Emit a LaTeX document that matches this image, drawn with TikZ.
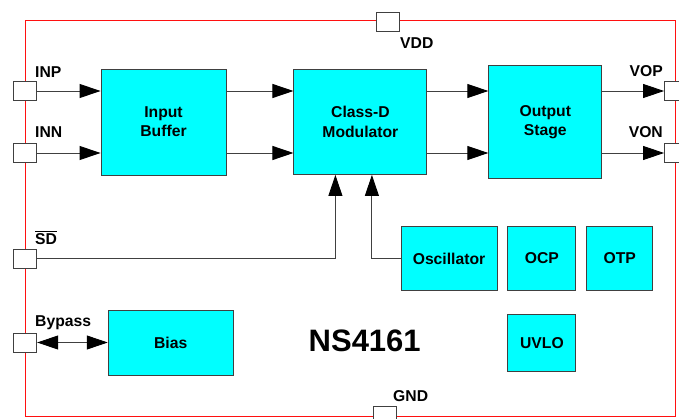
\documentclass[tikz,border=0pt]{standalone}
\usepackage{fontspec}
\setmainfont{Liberation Sans}
\usetikzlibrary{positioning,arrows.meta}
\definecolor{cyanfill}{HTML}{00FFFF}
\definecolor{edge}{HTML}{404040}
\definecolor{chipred}{HTML}{FF1010}

\begin{document}
\begin{tikzpicture}[x=1pt, y=1pt,
  blk/.style={draw=edge, fill=cyanfill, line width=0.9pt, align=center, inner sep=0pt, font=\fontsize{15.7}{19.3}\selectfont\bfseries},
  pad/.style={draw=edge, fill=white, line width=0.8pt, minimum width=23pt, minimum height=19pt, inner sep=0pt},
  lbl/.style={inner sep=0pt, font=\fontsize{15.7}{19.3}\selectfont\bfseries},
  arr/.style={-{Triangle[length=21pt,width=14pt,black]}, draw=edge, line width=0.9pt},
  barr/.style={{Triangle[length=21pt,width=14pt,black]}-{Triangle[length=21pt,width=14pt,black]}, draw=edge, line width=0.9pt},
  node distance=10pt]
\useasboundingbox (0,0) rectangle (679,418);
\draw[chipred, line width=1pt] (25.3,2) rectangle (675.5,397);
\node[blk, minimum width=125pt, minimum height=106pt] (buf) at (163.5,296) {Input\\Buffer};
\node[blk, minimum width=133pt, minimum height=105pt, right=67pt of buf] (mod) {Class-D\\Modulator};
\node[blk, minimum width=113pt, minimum height=113pt, right=61pt of mod] (out) {Output\\Stage};
\node[blk, minimum width=96pt, minimum height=64pt] (osc) at (449,159.5) {Oscillator};
\node[blk, minimum width=68pt, minimum height=64pt, right=of osc] (ocp) {OCP};
\node[blk, minimum width=66pt, minimum height=64pt, right=of ocp] (otp) {OTP};
\node[blk, minimum width=68pt, minimum height=57pt, below=23pt of ocp] (uvlo) {UVLO};
\node[blk, minimum width=125pt, minimum height=65pt] (bias) at (170.7,75.5) {Bias};
\node[pad] (inp) at (25.3,327) {}; \node[pad] (inn) at (25.3,265) {};
\node[pad] (sd) at (25.3,159.5) {}; \node[pad] (byp) at (25.3,75.5) {};
\node[pad] (vop) at (676,327) {}; \node[pad] (von) at (676,265) {};
\node[pad] (vdd) at (387.5,396.5) {}; \node[pad] (gnd) at (384.5,2) {};
\node[lbl, anchor=base west] (inpl) at (35,340) {INP};
\node[lbl, anchor=base west] (innl) at (35,280) {INN};
\node[lbl, anchor=base west] (sdl) at (35,174) {$\overline{\hbox{SD}}$};
\node[lbl, anchor=base west] (bypl) at (35,91.5) {Bypass};
\node[lbl, anchor=base east] (vopl) at (663,341) {VOP};
\node[lbl, anchor=base east] (vonl) at (663,280) {VON};
\node[lbl, anchor=base west] (vddl) at (400,369) {VDD};
\node[lbl, anchor=base west] (gndl) at (393,16.5) {GND};
\node[lbl, font=\fontsize{31}{36}\selectfont\bfseries] (name) at (364.7,77) {NS4161};
\draw[arr] (inp) -- (inp -| buf.west); \draw[arr] (inn) -- (inn -| buf.west);
\draw[arr] (buf.east |- inp) -- (mod.west |- inp); \draw[arr] (buf.east |- inn) -- (mod.west |- inn);
\draw[arr] (mod.east |- inp) -- (out.west |- inp); \draw[arr] (mod.east |- inn) -- (out.west |- inn);
\draw[arr] (out.east |- vop) -- (vop); \draw[arr] (out.east |- von) -- (von);
\draw[arr] (sd) -| ([xshift=-25pt]mod.south); \draw[arr] (osc) -| ([xshift=11.5pt]mod.south);
\draw[barr] (byp) -- (bias);
\end{tikzpicture}
\end{document}
